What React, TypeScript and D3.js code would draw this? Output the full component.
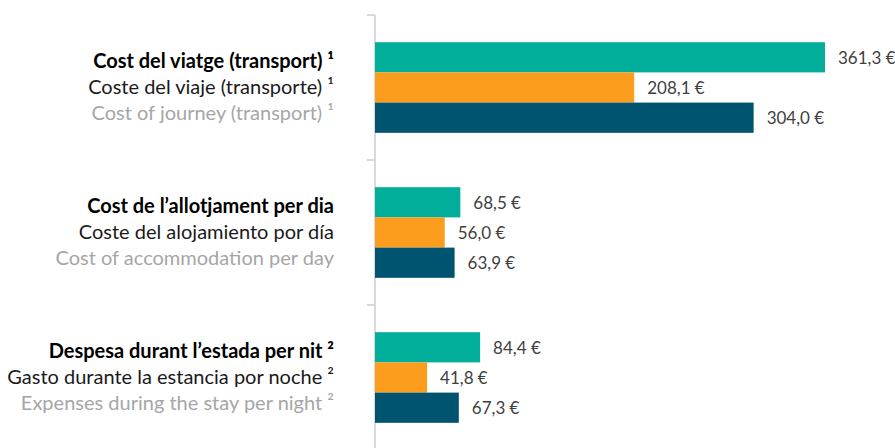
import React from 'react';
import * as d3 from 'd3';

// labels in catalan / spanish / english
const catLabels = [
    'Cost del viatge (transport) ¹',
    'Cost de l\u2019allotjament per dia',
    'Despesa durant l\u2019estada per nit ²',
];
const esLabels = [
    'Coste del viaje (transporte) ¹',
    'Coste del alojamiento por día',
    'Gasto durante la estancia por noche ²',
];
const enLabels = [
    'Cost of journey (transport) ¹',
    'Cost of accommodation per day',
    'Expenses during the stay per night ²',
];

const series = ['a', 'b', 'c'];
const valuesA = [361.3, 68.5, 84.4];
const valuesB = [208.1, 56.0, 41.8];
const valuesC = [304.0, 63.9, 67.3];

const colors = ['#00ae9a', '#fc9d1d', '#005470'];

const W = 895;
const H = 448;
const axisX = 375;
const font = 'Lato, "Open Sans", sans-serif';

const App = () => {
    const y = d3.scaleBand<number>()
        .domain([0, 1, 2])
        .range([15, 450])
        .padding(0);

    const yInner = d3.scaleBand<string>()
        .domain(series)
        .range([0, y.bandwidth()])
        .paddingInner(0)
        .paddingOuter(0.9);

    const x = d3.scaleLinear()
        .domain([0, 361.3])
        .range([axisX, 825]);

    const all = [valuesA, valuesB, valuesC];
    const fmt = (v: number) => v.toFixed(1).replace('.', ',') + ' €';
    const ticks = [0, 1, 2].map(i => y(i)!);

    return (
        <svg width={W} height={H} style={{ position: 'absolute', left: 0, top: 0 }}>
            <rect width={W} height={H} fill="#fff" />
            {/* axis */}
            <line x1={axisX} x2={axisX} y1={15} y2={H} stroke="#d9d9d9" strokeWidth={2} />
            {ticks.map((t, i) => (
                <line key={i} x1={axisX - 8} x2={axisX} y1={t} y2={t} stroke="#d9d9d9" strokeWidth={2} />
            ))}

            {/* bars */}
            {[0, 1, 2].map(ci => (
                <g key={ci} transform={`translate(0,${y(ci)})`}>
                    {series.map((s, si) => {
                        const v = all[si][ci];
                        const by = yInner(s)!;
                        return (
                            <g key={s}>
                                <rect
                                    x={x(0)}
                                    y={by}
                                    width={x(v) - x(0)}
                                    height={yInner.bandwidth()}
                                    fill={colors[si]}
                                />
                                <text
                                    x={x(v) + 13}
                                    y={by + yInner.bandwidth() / 2}
                                    dy="0.38em"
                                    fontFamily={font}
                                    fontSize={17}
                                    fill="#404040"
                                >
                                    {fmt(v)}
                                </text>
                            </g>
                        );
                    })}
                </g>
            ))}

            {/* category labels */}
            {[0, 1, 2].map(ci => {
                const cy = y(ci)! + y.bandwidth() / 2 + 6.5;
                return (
                    <g key={ci} fontFamily={font} fontSize={20} textAnchor="end">
                        <text x={334} y={cy - 26} fontWeight="bold" fill="#000">{catLabels[ci]}</text>
                        <text x={334} y={cy} fill="#1a1a1a">{esLabels[ci]}</text>
                        <text x={334} y={cy + 26} fill="#a6a6a6">{enLabels[ci]}</text>
                    </g>
                );
            })}
        </svg>
    );
};

export default App;
